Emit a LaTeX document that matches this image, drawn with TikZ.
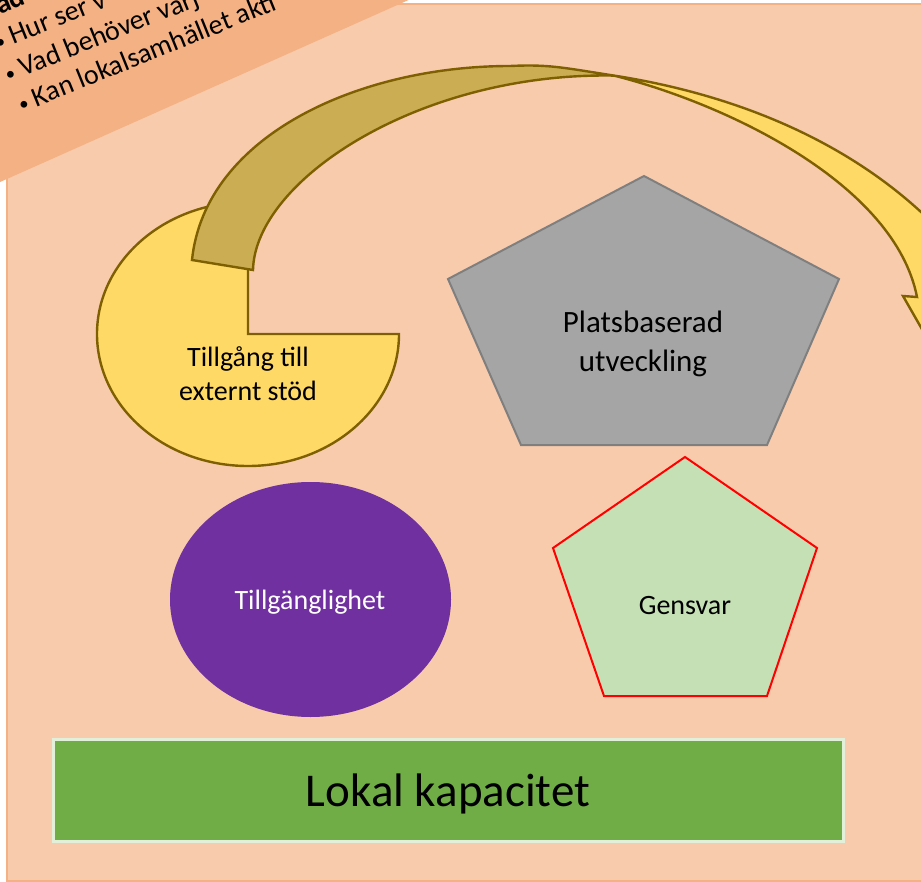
\documentclass[tikz,border=0pt]{standalone}
\usepackage{fontspec}
\setmainfont{Carlito}
\definecolor{peach}{HTML}{F8CBAD}
\definecolor{bannerc}{HTML}{F4B183}
\definecolor{goldy}{HTML}{FFD966}
\definecolor{goldd}{HTML}{CBAD54}
\definecolor{goldline}{HTML}{7F6000}
\definecolor{grayf}{HTML}{A5A5A5}
\definecolor{grayl}{HTML}{7F7F7F}
\definecolor{greenf}{HTML}{C5E0B4}
\definecolor{purp}{HTML}{7030A0}
\definecolor{greenr}{HTML}{70AD47}
\definecolor{greenb}{HTML}{E2F0D9}
\newcommand{\smallbul}{{\fontsize{19}{19}\selectfont\raisebox{1.5pt}{•}}}
\tikzset{
  goldshape/.style={draw=goldline, line width=2.4pt, line join=miter},
  lbl/.style={font=\fontsize{28}{34}\selectfont, align=center, inner sep=0pt},
  bannertext/.style={font=\fontsize{28}{33}\selectfont, anchor=base west, rotate=22, inner sep=0pt}
}
\begin{document}
\begin{tikzpicture}[x=1pt,y=-1pt]
\useasboundingbox (0,0) rectangle (921,882);
\clip (0,0) rectangle (921,882);
\fill[white] (0,0) rectangle (921,882);
\draw[fill=peach, draw=bannerc, line width=1.5pt] (7,4) rectangle (940,881);
% banner
\fill[bannerc] (-10,-10) -- (431,-10) -- (-10,186.5) -- cycle;
\node[bannertext] (bh) at (-14,20) {\bfseries Vad};
\node[bannertext] (b1) at (-1.4,50.9) {\smallbul\ Hur ser v};
\node[bannertext] (b2) at (8.6,82.6) {\smallbul\ Vad behöver varj};
\node[bannertext] (b3) at (22,113) {\smallbul\ Kan lokalsamhället akti};
% pie
\draw[goldshape, fill=goldy] (248,334) -- (399,334) arc[start angle=0, end angle=270, x radius=151, y radius=132] -- cycle;
\node[lbl, anchor=base] (pie) at (248,401) {Tillgång till\\externt stöd};
% curved arrow
\coordinate (c) at (614.1,75.6);
\coordinate (ab1) at (192,260);
\coordinate (ab2) at (253,270);
\coordinate (top) at (510,66);
\coordinate (barb) at (917,297);
\coordinate (barbo) at (903,296);
% light part
\filldraw[goldshape, fill=goldy]
  (c) .. controls (736.69,94.68) and (843.3,140.6) .. (921,212)
  .. controls (950,239) and (970,270) .. (985,300)
  -- (935,352) -- (barbo) -- (barb)
  .. controls (895,185) and (730,105) .. (c) -- cycle;
% dark part
\filldraw[goldshape, fill=goldd]
  (ab1) .. controls (205,135) and (360,66) .. (top)
  .. controls (549,64.2) and (561.6,67.44) .. (c)
  .. controls (420,72) and (255,180) .. (ab2) -- cycle;
% gray pentagon
\draw[fill=grayf, draw=grayl, line width=2pt, line join=miter] (644,176) -- (839,279) -- (767,445) -- (521,445) -- (448,279) -- cycle;
\node[lbl, font=\fontsize{31}{39}\selectfont, anchor=base] (plats) at (643,372) {Platsbaserad\\utveckling};
% green pentagon
\draw[fill=greenf, draw=red, line width=2pt, line join=miter] (685,457) -- (817,548) -- (767,696) -- (604,696) -- (553,548) -- cycle;
\node[lbl, anchor=base] (gens) at (685,614) {Gensvar};
% purple ellipse
\fill[purp] (310.5,599.5) ellipse[x radius=140.5, y radius=117.5];
\node[lbl, anchor=base, text=white] (till) at (310,609) {Tillgänglighet};
% green rect
\draw[fill=greenr, draw=greenb, line width=3pt] (53,739) rectangle (843,841);
\node[lbl, font=\fontsize{47}{56}\selectfont, anchor=base] (lok) at (448,806) {Lokal kapacitet};
\end{tikzpicture}
\end{document}
